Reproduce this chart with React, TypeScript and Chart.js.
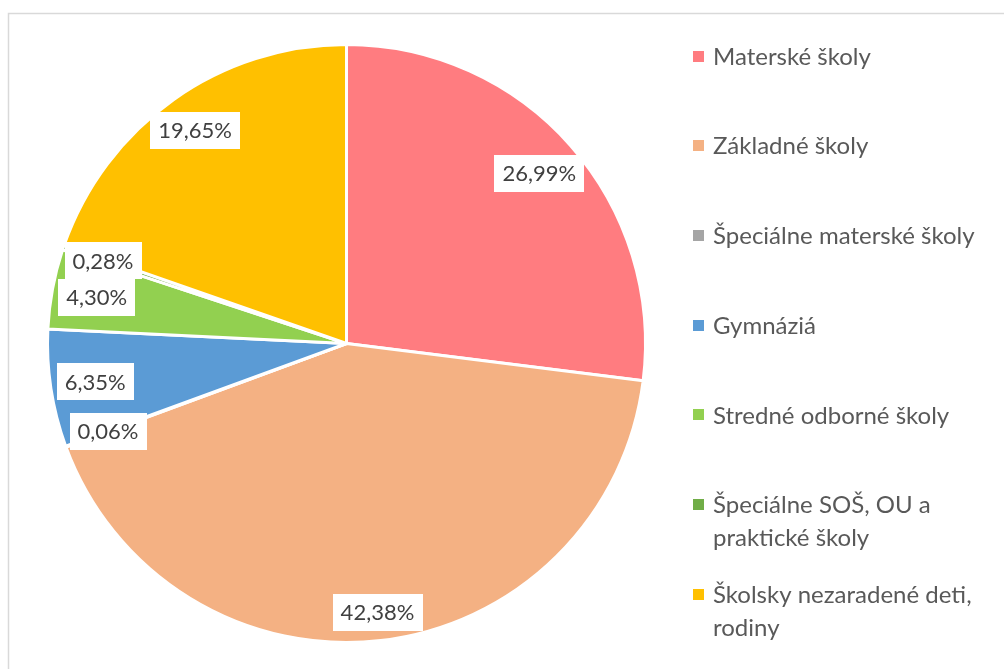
import React, { useEffect, useRef } from "react";
import { Chart, registerables } from "chart.js";

Chart.register(...registerables);

const categories: string[] = [
  "Materské školy",
  "Základné školy",
  "Špeciálne materské školy",
  "Gymnáziá",
  "Stredné odborné školy",
  "Špeciálne SOŠ, OU a praktické školy",
  "Školsky nezaradené deti, rodiny",
];
const legendLines: string[][] = [
  ["Materské školy"],
  ["Základné školy"],
  ["Špeciálne materské školy"],
  ["Gymnáziá"],
  ["Stredné odborné školy"],
  ["Špeciálne SOŠ, OU a", "praktické školy"],
  ["Školsky nezaradené deti,", "rodiny"],
];
const values: number[] = [26.99, 42.38, 0.06, 6.35, 4.3, 0.28, 19.65];
const valueLabels: string[] = ["26,99%", "42,38%", "0,06%", "6,35%", "4,30%", "0,28%", "19,65%"];

const colors = ["#FF7C80", "#F4B183", "#A5A5A5", "#5B9BD5", "#92D050", "#70AD47", "#FFC000"];
const labelRadius = [0.86, 0.905, 0.85, 0.85, 0.85, 0.86, 0.875];
const FONT = "Lato, 'Open Sans', sans-serif";

const framePlugin = {
  id: "frame",
  beforeDraw(chart: any) {
    const ctx = chart.ctx;
    ctx.save();
    ctx.fillStyle = "#ffffff";
    ctx.fillRect(0, 0, chart.width, chart.height);
    ctx.strokeStyle = "#D9D9D9";
    ctx.lineWidth = 1.5;
    ctx.strokeRect(8.5, 13.5, chart.width + 20, chart.height + 20);
    ctx.restore();
  },
};

const labelPlugin = {
  id: "sliceLabels",
  afterDatasetsDraw(chart: any) {
    const ctx = chart.ctx;
    const meta = chart.getDatasetMeta(0);
    ctx.save();
    ctx.font = `22px ${FONT}`;
    ctx.textAlign = "center";
    ctx.textBaseline = "middle";
    meta.data.forEach((arc: any, i: number) => {
      const { x, y, startAngle, endAngle, outerRadius } = arc.getProps(
        ["x", "y", "startAngle", "endAngle", "outerRadius"],
        true
      );
      const mid = (startAngle + endAngle) / 2;
      const r = outerRadius * labelRadius[i];
      const px = x + Math.cos(mid) * r;
      const py = y + Math.sin(mid) * r;
      const text = valueLabels[i];
      const w = ctx.measureText(text).width + 16;
      const h = 37;
      ctx.fillStyle = "#ffffff";
      ctx.fillRect(Math.round(px - w / 2), Math.round(py - h / 2), Math.round(w), h);
      ctx.fillStyle = "#404040";
      ctx.fillText(text, px, py + 1);
    });
    ctx.restore();
  },
};

const legendPlugin = {
  id: "sideLegend",
  afterDraw(chart: any) {
    const ctx = chart.ctx;
    ctx.save();
    ctx.font = `24px ${FONT}`;
    ctx.textAlign = "left";
    ctx.textBaseline = "middle";
    const x0 = 693;
    const y0 = 56;
    const step = 89.7;
    const lineH = 33;
    legendLines.forEach((lines, i) => {
      const y = y0 + i * step;
      ctx.fillStyle = colors[i];
      ctx.fillRect(x0, Math.round(y - 5.5), 11, 11);
      ctx.fillStyle = "#595959";
      lines.forEach((ln, j) => ctx.fillText(ln, x0 + 20, y + 1 + j * lineH));
    });
    ctx.restore();
  },
};

export default function App() {
  const ref = useRef<HTMLCanvasElement | null>(null);
  useEffect(() => {
    document.body.style.margin = "0";
    const chart = new Chart(ref.current as HTMLCanvasElement, {
      type: "pie",
      data: {
        labels: categories,
        datasets: [
          {
            data: values,
            backgroundColor: colors,
            borderColor: "#ffffff",
            borderWidth: 3,
          },
        ],
      },
      options: {
        animation: false,
        responsive: false,
        layout: { padding: { left: 46, top: 43, right: 357, bottom: 25 } },
        plugins: { legend: { display: false }, tooltip: { enabled: false } },
      },
      plugins: [framePlugin, labelPlugin, legendPlugin],
    });
    return () => chart.destroy();
  }, []);
  return <canvas ref={ref} width={1004} height={669} style={{ display: "block" }} />;
}
